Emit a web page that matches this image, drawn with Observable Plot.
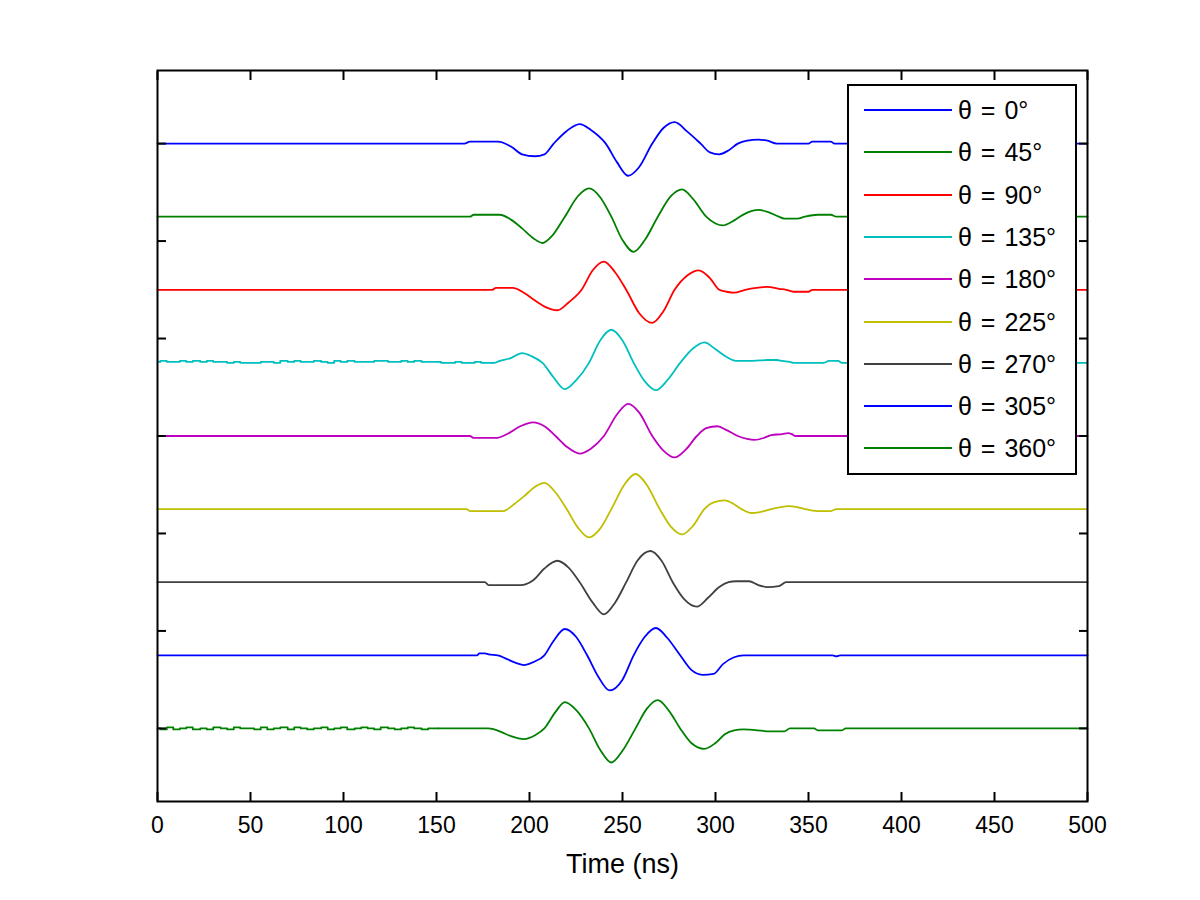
<!DOCTYPE html>
<html>
<head>
<meta charset="utf-8">
<script src="https://cdn.jsdelivr.net/npm/d3@7"></script>
<script src="https://cdn.jsdelivr.net/npm/@observablehq/plot@0.6"></script>
<style>
  body { margin: 0; background: #fff; }
  #wrap { position: relative; width: 1200px; height: 900px; background: #fff; }
  #legend { position: absolute; left: 847px; top: 84px; width: 226px; height: 387px;
    border: 2px solid #000; background: #fff;
    font-family: "Liberation Sans", Arial, sans-serif; font-size: 25px; color: #000; }
  .row { position: absolute; left: 0; width: 226px; height: 30px; }
  .row .ln { position: absolute; left: 15px; top: 14px; width: 88px; height: 2px; }
  .row .tx { position: absolute; left: 109px; top: 1px; line-height: 28px; white-space: nowrap; word-spacing: 2px; }
</style>
</head>
<body>
<div id="wrap"><div id="legend"></div></div>
<script>
// ---- data ----
const thetaLabels = ["θ = 0°", "θ = 45°", "θ = 90°", "θ = 135°", "θ = 180°", "θ = 225°", "θ = 270°", "θ = 305°", "θ = 360°"];
const colors = ["#0000ff", "#008000", "#ff0000", "#00bfbf", "#bf00bf", "#bfbf00", "#404040", "#0000ff", "#008000"];
const offsets = [600, 525, 450, 375, 300, 225, 150, 75, 0];
const xTicks = [0, 50, 100, 150, 200, 250, 300, 350, 400, 450, 500];
const yTicks = [0, 100, 200, 300, 400, 500, 600];

// [time (ns), amplitude]
const wave0 = [[0,0],[165,0],[168,2],[183,2],[190,-3],[196,-11],[203,-13],[208,-11],[213,0],[220,13],[227,20],[233,14],[241,0],[247,-19],[253,-33],[259,-24],[266,0],[272,16],[278,22],[285,12],[292,0],[297,-9],[302,-11],[307,-7],[312,0],[317,3],[323,4],[328,3],[333,0],[350,0],[352,2],[362,2],[364,0],[500,0]];
const wave45 = [[0,0],[168,0],[170,2],[184,2],[190,-3],[196,-12],[202,-22],[207,-27],[212,-20],[219,0],[226,21],[232,29],[238,20],[244,0],[250,-24],[256,-36],[262,-24],[269,0],[276,21],[282,28],[288,18],[295,0],[300,-7],[304,-9],[309,-5],[313,0],[318,5],[323,7],[328,5],[334,0],[337,-2],[344,-2],[348,0],[355,2],[362,2],[365,0],[500,0]];
const wave90 = [[0,0],[180,0],[182,2],[191,2],[197,-3],[203,-11],[209,-18],[215,-21],[221,-13],[228,0],[234,20],[240,29],[246,18],[252,0],[259,-24],[266,-34],[272,-22],[278,0],[285,15],[291,20],[297,12],[302,0],[306,-2],[310,-3],[316,0],[322,2],[328,3],[334,1],[338,0],[342,-2],[350,-2],[352,0],[500,0]];
const noise135T = [0,3,7,10,14,17,21,25,28,32,36,39,43,46,50,54,57,61,64,68,72,75,79,82,86,90,93,97,100,104,108,111,115,118,122,126,129,133,136,140,144,147,151,154,158,162,165,169,172,176,180];
const noise135V = [1,2,1,1,2,1,2,1,2,1,1,0,1,0,0,0,1,1,0,2,1,2,1,1,2,1,0,2,1,2,1,1,1,2,2,1,1,2,1,2,1,1,1,0,0,1,0,0,1,0,0];
const wave135 = [[180,0],[181,0],[184,2],[190,5],[196,10],[201,7],[207,0],[213,-15],[219,-27],[225,-18],[232,0],[238,23],[244,34],[250,23],[256,0],[262,-19],[268,-28],[274,-18],[281,0],[288,15],[294,21],[300,14],[306,6],[311,2],[320,2],[328,3],[333,3],[336,2],[340,1],[342,0],[358,0],[361,2],[366,2],[368,0],[500,0]];
const wave180 = [[0,0],[168,0],[170,-2],[182,-2],[188,2],[195,10],[202,14],[208,10],[214,0],[220,-11],[227,-18],[233,-13],[240,0],[247,22],[253,33],[259,24],[266,0],[272,-15],[278,-22],[284,-14],[290,0],[295,8],[301,10],[306,6],[312,0],[317,-3],[321,-4],[326,-2],[330,1],[336,2],[339,3],[341,2],[343,0],[500,0]];
const wave225 = [[0,0],[166,0],[168,-2],[186,-2],[191,4],[197,13],[203,23],[208,27],[214,17],[220,0],[226,-19],[232,-29],[238,-20],[244,0],[251,25],[257,36],[263,25],[270,0],[276,-18],[282,-26],[288,-17],[294,0],[299,7],[305,9],[310,5],[314,0],[319,-4],[324,-3],[330,0],[335,2],[339,3],[344,2],[348,0],[355,-2],[362,-2],[365,0],[500,0]];
const wave270 = [[0,0],[176,0],[178,-3],[188,-3],[195,-3],[202,2],[208,14],[215,22],[221,15],[227,0],[234,-21],[240,-33],[246,-21],[252,0],[258,22],[265,32],[271,22],[277,0],[283,-17],[290,-25],[296,-16],[302,-5],[307,0],[311,1],[318,1],[323,-3],[328,-5],[334,-4],[338,0],[500,0]];
const wave305 = [[0,0],[172,0],[173,2],[176,2],[178,1],[183,0],[188,-4],[193,-8],[197,-10],[202,-7],[208,0],[213,15],[219,27],[225,19],[231,0],[237,-22],[243,-36],[250,-25],[256,0],[262,19],[268,28],[274,18],[281,0],[287,-15],[293,-20],[299,-19],[304,-9],[310,-2],[315,0],[363,0],[365,-1],[367,0],[500,0]];
const noise360T = [0,3,7,10,14,17,21,25,28,32,36,39,43,46,50,54,57,61,64,68,72,75,79,82,86,90,93,97,100,104,108,111,115,118,122,126,129,133,136,140,144,147,151];
const noise360V = [0,-1,1,-1,0,1,-1,0,-1,1,0,-1,1,0,0,-1,1,-1,0,1,-1,1,0,-1,0,1,-1,0,1,-1,0,1,0,-1,1,0,-1,0,1,0,-1,0,0];
const wave360 = [[151,0],[152,0],[178,0],[184,-3],[190,-8],[197,-11],[203,-7],[208,0],[214,17],[219,27],[225,19],[232,0],[238,-22],[244,-35],[250,-23],[257,0],[263,20],[269,29],[275,18],[281,0],[287,-15],[294,-21],[300,-15],[305,-6],[310,-2],[315,-1],[330,-3],[337,-3],[340,0],[353,0],[355,-2],[368,-2],[370,0],[500,0]];

const waves = [wave0, wave45, wave90, wave135, wave180, wave225, wave270, wave305, wave360];
const noises = [null, null, null, [noise135T, noise135V], null, null, null, null, [noise360T, noise360V]];

// ---- chart ----
const lineMarks = [];
waves.forEach((pts, i) => {
  lineMarks.push(Plot.line(pts.map(([t, a]) => ({t, v: offsets[i] + a})), {
    x: "t", y: "v", stroke: colors[i], strokeWidth: 1.8, curve: "monotone-x"
  }));
  if (noises[i]) {
    const [T, V] = noises[i];
    lineMarks.push(Plot.line(T.map((t, j) => ({t, v: offsets[i] + V[j]})), {
      x: "t", y: "v", stroke: colors[i], strokeWidth: 1.8, curve: "step"
    }));
  }
});

const chart = Plot.plot({
  width: 1200, height: 900,
  marginLeft: 157, marginRight: 113, marginTop: 70, marginBottom: 99,
  style: { fontFamily: "Liberation Sans, Arial, sans-serif", fontSize: "23px", background: "white", color: "black" },
  x: { domain: [0, 500] },
  y: { domain: [-75, 675] },
  marks: [
    ...lineMarks,
    Plot.axisX(xTicks, { anchor: "bottom", tickSize: 0, stroke: "none", tickPadding: 15, fontSize: 23, label: null }),
    Plot.tickX(xTicks, { x: d => d, insetTop: 722, stroke: "black", strokeWidth: 2 }),
    Plot.axisX(xTicks, { anchor: "top", tickSize: -9, strokeWidth: 2, tickFormat: () => "", label: null }),
    Plot.axisY(yTicks, { anchor: "left", tickSize: -9, strokeWidth: 2, tickFormat: () => "", label: null }),
    Plot.axisY(yTicks, { anchor: "right", tickSize: -9, strokeWidth: 2, tickFormat: () => "", label: null }),
    Plot.text(["Time (ns)"], { frameAnchor: "bottom", dy: 63, lineAnchor: "middle", fontSize: 27, fill: "black" }),
    Plot.frame({ stroke: "black", strokeWidth: 2 })
  ]
});
document.getElementById("wrap").prepend(chart);

// ---- legend ----
const legend = document.getElementById("legend");
thetaLabels.forEach((lab, i) => {
  const row = document.createElement("div");
  row.className = "row";
  row.style.top = (9 + i * 42.3) + "px";
  row.innerHTML = `<div class="ln" style="background:${colors[i]}"></div><div class="tx">${lab}</div>`;
  legend.appendChild(row);
});
</script>
</body>
</html>
